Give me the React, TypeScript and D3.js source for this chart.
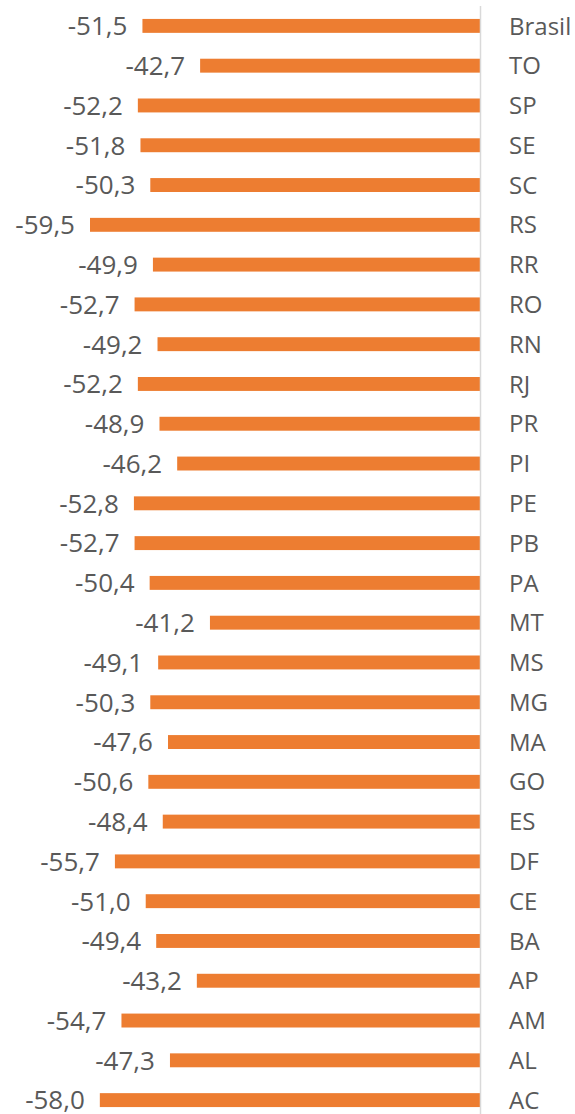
import React, { useRef, useEffect } from "react";
import * as d3 from "d3";

const WIDTH = 575;
const HEIGHT = 1114;
const BAR_COLOR = "#ED7D31";
const TEXT_COLOR = "#595959";
const AXIS_COLOR = "#D9D9D9";

const categories = [
  "Brasil", "TO", "SP", "SE", "SC", "RS", "RR", "RO", "RN", "RJ", "PR", "PI", "PE", "PB",
  "PA", "MT", "MS", "MG", "MA", "GO", "ES", "DF", "CE", "BA", "AP", "AM", "AL", "AC",
];
const values = [
  -51.5, -42.7, -52.2, -51.8, -50.3, -59.5, -49.9, -52.7, -49.2, -52.2, -48.9, -46.2, -52.8, -52.7,
  -50.4, -41.2, -49.1, -50.3, -47.6, -50.6, -48.4, -55.7, -51.0, -49.4, -43.2, -54.7, -47.3, -58.0,
];

const fmt = (v: number) => v.toFixed(1).replace(".", ",");

export default function App() {
  const svgRef = useRef<SVGSVGElement>(null);

  useEffect(() => {
    const svg = d3.select(svgRef.current);
    svg.selectAll("*").remove();

    const data = categories.map((c, i) => ({ cat: c, value: values[i] }));

    const x = d3.scaleLinear().domain([-59.5, 0]).range([90, 480]);
    const y = d3
      .scaleBand()
      .domain(categories)
      .range([6, 1120])
      .paddingInner(0.65)
      .paddingOuter(0.325);

    const font = "'Open Sans', sans-serif";

    // bars
    svg
      .selectAll(".bar")
      .data(data)
      .join("rect")
      .attr("class", "bar")
      .attr("x", (d) => x(d.value))
      .attr("y", (d) => y(d.cat)!)
      .attr("width", (d) => x(0) - x(d.value))
      .attr("height", y.bandwidth())
      .attr("fill", BAR_COLOR);

    // zero axis line
    svg
      .append("line")
      .attr("x1", x(0) + 0.5)
      .attr("x2", x(0) + 0.5)
      .attr("y1", 6)
      .attr("y2", HEIGHT)
      .attr("stroke", AXIS_COLOR)
      .attr("stroke-width", 1.5);

    // value labels
    svg
      .selectAll(".val")
      .data(data)
      .join("text")
      .attr("class", "val")
      .attr("x", (d) => x(d.value) - 15)
      .attr("y", (d) => y(d.cat)! + y.bandwidth() / 2)
      .attr("dy", "0.36em")
      .attr("text-anchor", "end")
      .attr("font-family", font)
      .attr("font-size", 26)
      .attr("fill", TEXT_COLOR)
      .text((d) => fmt(d.value));

    // category labels
    svg
      .selectAll(".cat")
      .data(data)
      .join("text")
      .attr("class", "cat")
      .attr("x", 509)
      .attr("y", (d) => y(d.cat)! + y.bandwidth() / 2)
      .attr("dy", "0.36em")
      .attr("font-family", font)
      .attr("font-size", 24)
      .attr("fill", TEXT_COLOR)
      .text((d) => d.cat);
  }, []);

  return (
    <svg
      ref={svgRef}
      width={WIDTH}
      height={HEIGHT}
      style={{ position: "absolute", top: 0, left: 0, background: "#fff" }}
    />
  );
}
